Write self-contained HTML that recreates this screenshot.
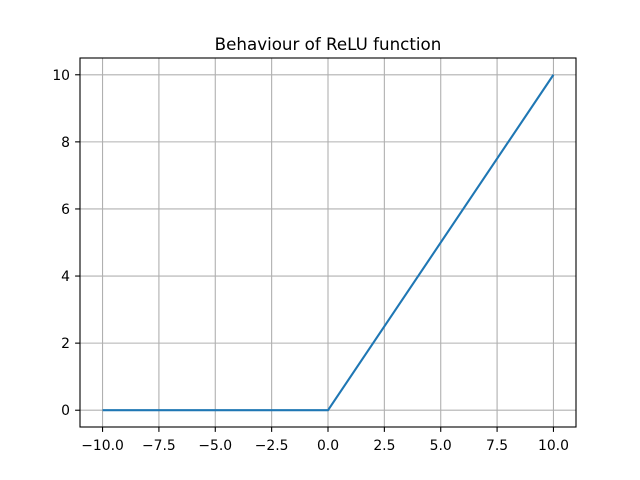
<!DOCTYPE html>
<html><head><meta charset="utf-8"><style>body{margin:0;background:#fff}svg{display:block}text{font-family:"DejaVu Sans","Liberation Sans",sans-serif;font-size:13.9px;fill:#000}</style></head>
<body>
<svg id="chart" width="640" height="480" xmlns="http://www.w3.org/2000/svg">
<rect width="640" height="480" fill="#fff"/>
<text x="328" y="50" text-anchor="middle" style="font-size:16.7px">Behaviour of ReLU function</text>
<g id="grid"></g>
<g id="ticks"></g>
<g id="series"></g>
<rect x="80" y="58" width="496" height="369" fill="none" stroke="#000" stroke-width="1.1"/>
</svg>
<script>
const xValues = [-10, 0, 10];
const yValues = [0, 0, 10];
const xTicks = [-10, -7.5, -5, -2.5, 0, 2.5, 5, 7.5, 10];
const yTicks = [0, 2, 4, 6, 8, 10];
const xTickLabels = ["−10.0","−7.5","−5.0","−2.5","0.0","2.5","5.0","7.5","10.0"];
const yTickLabels = ["0","2","4","6","8","10"];
const L=80,R=576,T=58,B=427;
const xmin=-11,xmax=11,ymin=-0.5,ymax=10.5;
const sx=v=>L+(v-xmin)/(xmax-xmin)*(R-L);
const sy=v=>B-(v-ymin)/(ymax-ymin)*(B-T);
const NS="http://www.w3.org/2000/svg";
const grid=document.getElementById('grid'),ticks=document.getElementById('ticks'),series=document.getElementById('series');
function mk(tag,attrs,parent){const e=document.createElementNS(NS,tag);for(const k in attrs)e.setAttribute(k,attrs[k]);parent.appendChild(e);return e;}
xTicks.forEach((v,i)=>{const x=sx(v);
 const g=mk('line',{x1:x,x2:x,y1:T,y2:B,stroke:'#b0b0b0','stroke-width':1.1},grid);
 
 
 const t=mk('line',{x1:x,x2:x,y1:B,y2:B+4.9,stroke:'#000','stroke-width':1.1},ticks);
 
 
 const l=mk('text',{x:x,y:B+23,'text-anchor':'middle'},ticks);l.textContent=xTickLabels[i];
 
 
});
yTicks.forEach((v,i)=>{const y=sy(v);
 const g=mk('line',{x1:L,x2:R,y1:y,y2:y,stroke:'#b0b0b0','stroke-width':1.1},grid);
 
 
 const t=mk('line',{x1:L-4.9,x2:L,y1:y,y2:y,stroke:'#000','stroke-width':1.1},ticks);
 
 
 const l=mk('text',{x:L-10,y:y+5,'text-anchor':'end'},ticks);l.textContent=yTickLabels[i];
 
 
});
const p=mk('polyline',{points:xValues.map((v,i)=>sx(v)+','+sy(yValues[i])).join(' '),fill:'none',stroke:'#1f77b4','stroke-width':2.1},series);


</script>
</body></html>
